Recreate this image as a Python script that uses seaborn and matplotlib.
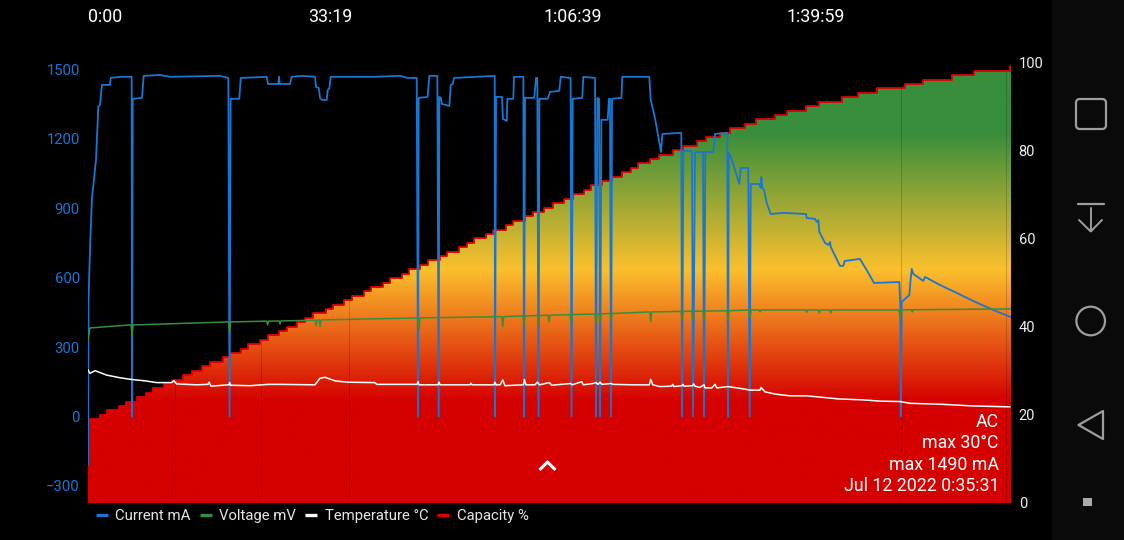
import numpy as np
import matplotlib
matplotlib.use("Agg")
import matplotlib.pyplot as plt
from matplotlib.colors import LinearSegmentedColormap
from matplotlib.lines import Line2D
from matplotlib.patches import Circle, FancyBboxPatch, Polygon, Rectangle
import seaborn as sns

BLUE = "#1976D2"
GREEN = "#388E3C"
RED = "#E00000"

# seconds since start / mA
current_t = [
    0, 4, 19, 33, 66, 85, 99, 115, 181, 187,
    264, 360, 363, 369, 445, 459, 594, 676, 1088, 1157,
    1167, 1176, 1247, 1259, 1473, 1484, 1569, 1575, 1580, 1665,
    1679, 1772, 1871, 1880, 1902, 1913, 1929, 1968, 1976, 1989,
    2001, 2350, 2572, 2638, 2710, 2721, 2726, 2800, 2814, 2880,
    2891, 2896, 2910, 2916, 2979, 2990, 3007, 3017, 3353, 3355,
    3364, 3413, 3421, 3452, 3457, 3506, 3512, 3589, 3594, 3603,
    3679, 3693, 3704, 3714, 3721, 3790, 3809, 3885, 3897, 3979,
    3986, 3996, 4075, 4083, 4180, 4188, 4199, 4213, 4221, 4232,
    4284, 4295, 4303, 4312, 4320, 4397, 4405, 4627, 4639, 4674,
    4724, 4735, 4891, 4897, 4908, 4979, 4988, 5004, 5070, 5078,
    5089, 5155, 5169, 5270, 5276, 5282, 5299, 5334, 5369, 5381,
    5443, 5455, 5463, 5534, 5546, 5551, 5559, 5573, 5595, 5628,
    5732, 5919, 5925, 5993, 6007, 6021, 6029, 6076, 6103, 6117,
    6123, 6199, 6227, 6238, 6364, 6419, 6480, 6688, 6697, 6700,
    6708, 6771, 6779, 6791, 6804, 6886, 6900, 7024, 7161, 7298,
    7463, 7606,
]
current_ma = [
    -210, 504, 763, 945, 1109, 1338, 1347, 1433, 1433, 1463,
    1468, 1468, 0, 1373, 1377, 1472, 1476, 1468, 1472, 1463,
    0, 1373, 1373, 1463, 1468, 1437, 1437, 1468, 1437, 1437,
    1468, 1472, 1468, 1424, 1420, 1377, 1368, 1368, 1411, 1416,
    1468, 1468, 1472, 1463, 1463, 0, 1377, 1381, 1472, 1472,
    0, 1381, 1377, 1351, 1342, 1433, 1437, 1463, 1472, 0,
    1381, 1381, 1286, 1277, 1373, 1373, 1468, 1468, 0, 1377,
    1377, 1463, 1463, 0, 1373, 1373, 1403, 1407, 1468, 1463,
    0, 1373, 1377, 1468, 1463, 0, 1377, 1373, 0, 1282,
    1282, 1373, 1373, 0, 1373, 1377, 1468, 1468, 1368, 1290,
    1143, 1221, 1226, 0, 1148, 1148, 0, 1143, 1143, 0,
    1143, 1143, 1221, 1226, 0, 1139, 1122, 1066, 1005, 1074,
    1074, 0, 1005, 1005, 988, 1035, 988, 979, 923, 875,
    880, 875, 858, 854, 841, 849, 798, 750, 741, 754,
    733, 651, 651, 672, 681, 633, 577, 581, 473, 0,
    495, 525, 577, 638, 616, 586, 603, 568, 534, 499,
    460, 430,
]

voltage_t = [
    0, 16, 346, 355, 363, 371, 1162, 1167, 1175,
    1473, 1481, 1489, 1575, 1583, 1591, 1872, 1880, 1888,
    1905, 1913, 1921, 2721, 2729, 2737, 3411, 3419, 3427,
    3586, 3594, 3602, 3707, 3715, 3723, 3792, 3800, 3808,
    3974, 3982, 3990, 4180, 4188, 4196, 4213, 4221, 4229,
    4304, 4312, 4320, 4631, 4639, 4647, 4889, 4897, 4905,
    4977, 4985, 4993, 5070, 5078, 5086, 5268, 5276, 5284,
    5450, 5458, 5466, 5532, 5540, 5548, 5917, 5925, 5933,
    6021, 6029, 6037, 6115, 6123, 6131, 6686, 6694, 6702,
    6787, 6795, 6803, 7609,
]
voltage_mv = [
    3307, 3826, 3956, 3956, 3523, 3956, 4085, 3610, 4085,
    4120, 3956, 4120, 4128, 3999, 4128, 4163, 3925, 4163,
    4172, 3882, 4172, 4258, 3739, 4258, 4314, 3882, 4314,
    4345, 3956, 4345, 4362, 3999, 4362, 4375, 4098, 4375,
    4401, 4042, 4401, 4431, 4042, 4431, 4435, 4098, 4435,
    4448, 4172, 4448, 4518, 4098, 4518, 4539, 4172, 4539,
    4548, 4215, 4548, 4552, 4215, 4552, 4569, 4172, 4569,
    4604, 4258, 4604, 4604, 4518, 4604, 4604, 4505, 4604,
    4604, 4474, 4604, 4604, 4474, 4604, 4604, 4258, 4604,
    4613, 4518, 4613, 4647,
]

temp_t = [
    0, 16, 58, 154, 264, 360, 470, 566, 690, 709,
    731, 896, 989, 998, 1014, 1162, 1167, 1175, 1336, 1484,
    1583, 1871, 1913, 1954, 2036, 2133, 2366, 2380, 2545, 2712,
    2721, 2729, 2885, 2894, 2902, 3149, 3157, 3165, 3347, 3355,
    3364, 3397, 3419, 3438, 3589, 3597, 3611, 3685, 3704, 3721,
    3803, 3823, 3979, 3990, 4070, 4083, 4163, 4188, 4204, 4221,
    4237, 4312, 4328, 4493, 4627, 4639, 4656, 4716, 4812, 4820,
    4831, 4897, 4905, 4913, 4985, 4992, 5004, 5045, 5078, 5087,
    5142, 5169, 5183, 5276, 5375, 5458, 5540, 5548, 5581, 5664,
    5787, 5925, 6076, 6185, 6378, 6529, 6694, 6777, 7024, 7298,
    7601,
]
temp_c = [
    30.2, 29.4, 30.0, 29.0, 28.4, 28.0, 27.7, 27.3, 27.3, 27.7,
    27.0, 26.8, 26.9, 27.4, 26.5, 26.8, 27.3, 26.7, 26.6, 26.9,
    26.9, 26.8, 28.3, 28.5, 27.7, 27.4, 27.3, 26.9, 26.9, 26.9,
    27.5, 26.8, 26.8, 27.4, 26.8, 26.8, 27.2, 26.8, 26.8, 27.4,
    26.8, 26.8, 27.9, 26.6, 26.8, 28.0, 26.8, 26.8, 27.4, 26.8,
    27.3, 26.7, 27.1, 26.8, 27.5, 26.8, 27.1, 27.3, 26.9, 27.4,
    26.9, 27.1, 26.9, 26.8, 26.8, 28.0, 26.8, 26.4, 26.5, 26.9,
    26.4, 26.6, 26.9, 26.5, 26.6, 27.0, 26.5, 26.2, 26.8, 26.1,
    26.1, 26.9, 26.1, 26.4, 26.0, 25.6, 25.6, 26.2, 25.2, 24.7,
    24.3, 24.3, 23.9, 23.6, 23.4, 23.1, 23.0, 22.6, 22.4, 22.0,
    21.8,
]

capacity_pct = list(range(19, 100)) + [99]
capacity_t = [
    0, 99, 159, 258, 311, 406, 478, 533, 629, 690,
    786, 855, 942, 1006, 1110, 1171, 1261, 1322, 1418, 1481,
    1575, 1638, 1725, 1789, 1857, 1960, 2022, 2113, 2179, 2275,
    2333, 2430, 2490, 2586, 2649, 2739, 2805, 2899, 2962, 3061,
    3122, 3185, 3279, 3341, 3444, 3506, 3603, 3666, 3762, 3831,
    3927, 4001, 4089, 4144, 4240, 4317, 4405, 4474, 4537, 4633,
    4710, 4820, 4908, 5018, 5092, 5206, 5293, 5416, 5507, 5661,
    5760, 5917, 6029, 6216, 6350, 6507, 6735, 6881, 7125, 7307,
    7601, 7609,
]

seam_t = [720, 1426, 2152, 6702, 7564]
seam_top = [28, 37, 46, 94, 98]

time_ticks = [0, 1999, 3999, 5999]
time_labels = ["0:00", "33:19", "1:06:39", "1:39:59"]
left_ticks = [-300, 0, 300, 600, 900, 1200, 1500]
right_ticks = [0, 20, 40, 60, 80, 100]
info_lines = ["AC", "max 30°C", "max 1490 mA", "Jul 12 2022 0:35:31"]

sns.set_theme(style="dark", rc={
    "figure.facecolor": "black",
    "axes.facecolor": "black",
    "axes.grid": False,
    "savefig.facecolor": "black",
})
plt.rcParams["font.family"] = ["Roboto", "DejaVu Sans"]

fig = plt.figure(figsize=(11.24, 5.4), dpi=100)
rect = [88 / 1124, 37 / 540, 923 / 1124, 441 / 540]

# capacity, gradient clipped to the step area
ax_cap = fig.add_axes(rect)
stops = [(0, "#D50000"), (0.23, "#D50000"), (0.53, "#FBC02D"), (0.84, "#388E3C"), (1, "#388E3C")]
cmap = LinearSegmentedColormap.from_list("capacity", stops)
xmax = 7609
band = ax_cap.fill_between(capacity_t, capacity_pct, 0, step="post", color="none", linewidth=0)
grad = ax_cap.imshow(np.linspace(0, 1, 440).reshape(-1, 1), origin="lower", aspect="auto",
                     cmap=cmap, extent=[0, xmax, 0, 100], zorder=1)
grad.set_clip_path(band.get_paths()[0], transform=ax_cap.transData)
ax_cap.vlines(seam_t, 0, seam_top, color="black", alpha=0.18, linewidth=0.7, zorder=2)
sns.lineplot(x=capacity_t, y=capacity_pct, ax=ax_cap, color=RED, linewidth=1.3,
             drawstyle="steps-post", estimator=None, sort=False, legend=False, zorder=3)

# current + voltage on the left scale (voltage is shown as mV / 10)
ax_left = ax_cap.twinx()
ax_left.patch.set_visible(False)
sns.lineplot(x=current_t, y=current_ma, ax=ax_left, color=BLUE, linewidth=1.3,
             estimator=None, sort=False, legend=False)
sns.lineplot(x=voltage_t, y=np.array(voltage_mv) / 10, ax=ax_left, color=GREEN, linewidth=1.1,
             estimator=None, sort=False, legend=False)

# temperature shares the right scale but sits on top
ax_temp = ax_cap.twinx()
ax_temp.patch.set_visible(False)
sns.lineplot(x=temp_t, y=temp_c, ax=ax_temp, color="white", linewidth=1.1,
             estimator=None, sort=False, legend=False)
ax_temp.set_ylim(0, 100)
ax_temp.axis("off")

ax_cap.set_xlim(0, xmax)
ax_cap.set_ylim(0, 100)
ax_left.set_ylim(-374, 1532)

ax_cap.set_yticks(right_ticks)
ax_cap.yaxis.tick_right()
ax_cap.tick_params(axis="y", length=0, pad=5.5, labelsize=10.5, labelcolor="#EEEEEE")
ax_left.set_yticks(left_ticks)
ax_left.yaxis.tick_left()
ax_left.tick_params(axis="y", length=0, pad=6, labelsize=10.7, labelcolor=BLUE)

ax_cap.set_xticks(time_ticks)
ax_cap.set_xticklabels(time_labels)
ax_cap.xaxis.tick_top()
ax_cap.tick_params(axis="x", length=0, pad=26, labelsize=12.8, labelcolor="white")
ax_cap.get_xticklabels()[0].set_ha("left")
ax_cap.set_xlabel("")
ax_cap.set_ylabel("")
ax_left.set_ylabel("")
for a in [ax_cap, ax_left, ax_temp]:
    for s in a.spines.values():
        s.set_visible(False)

# info block, bottom right
for i, line in enumerate(info_lines):
    fig.text(999 / 1124, 1 - (422 + i * 21.3) / 540, line, color="white", fontsize=12.8,
             ha="right", va="center")

handles = [Line2D([], [], color=BLUE, lw=2.4, solid_capstyle="butt"),
           Line2D([], [], color=GREEN, lw=2.4, solid_capstyle="butt"),
           Line2D([], [], color="white", lw=2.4, solid_capstyle="butt"),
           Line2D([], [], color=RED, lw=2.4, solid_capstyle="butt")]
names = ["Current mA", "Voltage mV", "Temperature °C", "Capacity %"]
leg = fig.legend(handles, names, ncol=4, frameon=False, loc="center left",
                 bbox_to_anchor=(84 / 1124, 1 - 516 / 540), fontsize=10.7,
                 handlelength=0.8, handletextpad=0.5, columnspacing=0.62, borderpad=0.3)
for t in leg.get_texts():
    t.set_color("#E6E6E6")

# overlay in pixel coordinates: chevron and navigation bar
ui = fig.add_axes([0, 0, 1, 1], zorder=10)
ui.set_xlim(0, 1124)
ui.set_ylim(540, 0)
ui.axis("off")
ui.patch.set_visible(False)
ui.plot([539.5, 547.5, 555.5], [470, 462, 470], color="white", lw=2.2, solid_capstyle="butt")
ui.add_patch(Rectangle((1052, 0), 72, 540, color="#0A0A0A", lw=0))
grey = "#9E9E9E"
ui.add_patch(FancyBboxPatch((1079, 102), 24, 24, boxstyle="round,pad=3,rounding_size=4",
                            fill=False, ec=grey, lw=1.6))
ui.plot([1078, 1104], [204, 204], color=grey, lw=1.6)
ui.plot([1090.7, 1090.7], [208, 231], color=grey, lw=1.4)
ui.plot([1079, 1090.7, 1102], [220, 231.5, 220], color=grey, lw=1.4)
ui.add_patch(Circle((1090.7, 321), 14.3, fill=False, ec=grey, lw=1.6))
ui.add_patch(Polygon([(1078.5, 425), (1103, 411), (1103, 439)], closed=True, fill=False,
                     ec=grey, lw=1.6, joinstyle="round"))
ui.add_patch(Rectangle((1083.3, 497.5), 8.5, 8.5, color="#AAAAAA", lw=0))

plt.savefig("out.png", dpi=100)
plt.close()
